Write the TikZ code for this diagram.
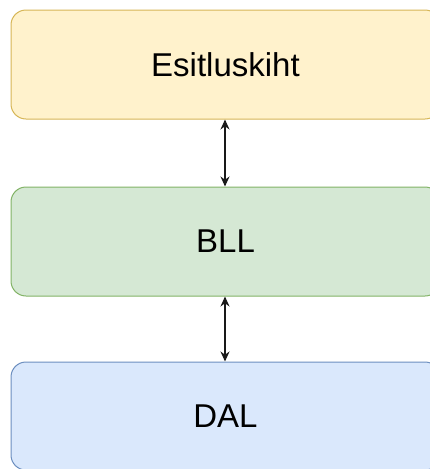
\documentclass[tikz,border=0pt]{standalone}
\usepackage{fontspec}
\setmainfont{Liberation Sans}
\usetikzlibrary{arrows.meta}
\definecolor{yfill}{HTML}{FFF2CC}\definecolor{ydraw}{HTML}{D6B656}
\definecolor{gfill}{HTML}{D5E8D4}\definecolor{gdraw}{HTML}{82B366}
\definecolor{bfill}{HTML}{DAE8FC}\definecolor{bdraw}{HTML}{6C8EBF}
\tikzset{
  layer/.style={rounded corners=15pt, line width=1pt, minimum width=429pt,
    inner sep=0pt, font=\fontsize{33}{40}\selectfont, text=black},
  link/.style={line width=1.1pt, draw=black!90, {Stealth[length=10pt,width=9pt]}-{Stealth[length=10pt,width=9pt]}}
}
\begin{document}
\begin{tikzpicture}[x=1pt,y=-1pt]
\useasboundingbox (0,0) rectangle (429,469);
\node[layer, fill=yfill, draw=ydraw, minimum height=109pt] (pres) at (225.5,64.5) {Esitluskiht};
\node[layer, fill=gfill, draw=gdraw, minimum height=109pt] (bll) at (225.5,241.5) {BLL};
\node[layer, fill=bfill, draw=bdraw, minimum height=108pt] (dal) at (225.5,416) {DAL};
\draw[link] (pres.south -| 225,0) -- (bll.north -| 225,0);
\draw[link] (bll.south -| 225,0) -- (dal.north -| 225,0);
\end{tikzpicture}
\end{document}
